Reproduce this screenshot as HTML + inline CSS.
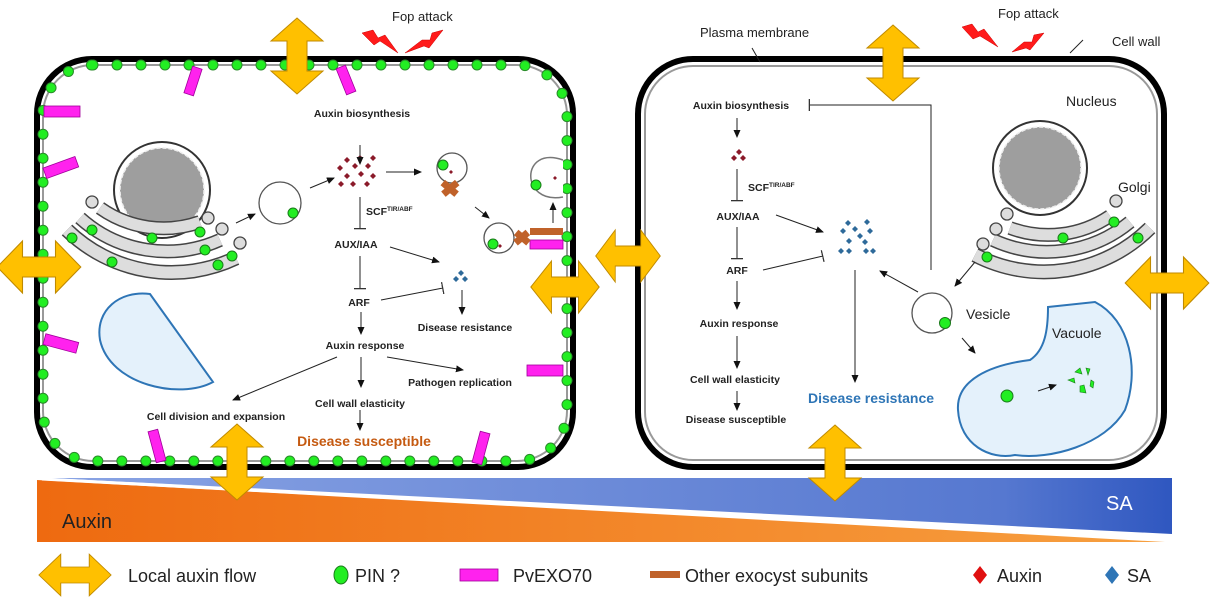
<!DOCTYPE html>
<html><head><meta charset="utf-8"><style>
html,body{margin:0;padding:0;background:#fff;}
svg{display:block;}
text{font-family:"Liberation Sans",sans-serif;}
.b{font-weight:bold;font-size:10.5px;fill:#222;}
.r{font-size:14px;fill:#222;}
</style></head><body>
<svg width="1216" height="597" viewBox="0 0 1216 597" xmlns="http://www.w3.org/2000/svg">
<defs>
<marker id="ah" markerWidth="8" markerHeight="8" refX="7" refY="4" orient="auto" markerUnits="userSpaceOnUse"><path d="M0,0.5 L8,4 L0,7.5 Z" fill="#111"/></marker>
<marker id="tee" markerWidth="2" markerHeight="12" refX="1" refY="6" orient="auto" markerUnits="userSpaceOnUse"><rect x="0" y="0" width="1.3" height="12" fill="#333"/></marker>
<g id="va"><polygon points="0,-38 26,-15 10,-15 10,15 26,15 0,38 -26,15 -10,15 -10,-15 -26,-15" fill="#FFC000" stroke="#c08a00" stroke-width="1"/></g>
<linearGradient id="og" x1="0" x2="1"><stop offset="0" stop-color="#ee6a10"/><stop offset="1" stop-color="#f7a040"/></linearGradient>
<linearGradient id="bg" x1="0" x2="1"><stop offset="0" stop-color="#8aa4e4"/><stop offset="0.85" stop-color="#5678d0"/><stop offset="1" stop-color="#2f57c0"/></linearGradient>
</defs>

<polygon points="48,478 1172,478 1172,534" fill="url(#bg)"/>
<polygon points="37,480 1165,542 37,542" fill="url(#og)"/>
<line x1="42" y1="479" x2="1172" y2="539" stroke="#fff" stroke-width="3"/>
<text x="62" y="528" font-size="20" fill="#222">Auxin</text>
<text x="1106" y="510" font-size="20" fill="#fff">SA</text>

<!-- LEFT CELL -->
<rect x="37" y="59" width="536" height="408" rx="55" fill="#fff" stroke="#000" stroke-width="6"/>
<rect x="43" y="65" width="524" height="396" rx="50" fill="none" stroke="#999" stroke-width="2"/>
<rect x="43" y="65" width="524" height="396" rx="50" fill="none" stroke="#2a8a2a" stroke-width="11" stroke-dasharray="0 24" stroke-linecap="round"/>
<rect x="43" y="65" width="524" height="396" rx="50" fill="none" stroke="#22ee22" stroke-width="9" stroke-dasharray="0 24" stroke-linecap="round"/>
<g fill="#ff22ee" stroke="#a0009a" stroke-width="0.8">
<rect x="188" y="67" width="10" height="28" transform="rotate(18 193 81)"/>
<rect x="341" y="66" width="10" height="28" transform="rotate(-22 346 80)"/>
<rect x="44" y="106" width="36" height="11"/>
<rect x="44" y="162" width="34" height="11" transform="rotate(-20 61 168)"/>
<rect x="44" y="338" width="34" height="11" transform="rotate(15 61 343)"/>
<rect x="152" y="430" width="10" height="32" transform="rotate(-15 157 446)"/>
<rect x="476" y="432" width="10" height="32" transform="rotate(15 481 448)"/>
<rect x="527" y="365" width="36" height="11"/>
<rect x="530" y="240" width="33" height="9"/>
</g>
<circle cx="162" cy="190" r="48" fill="#fff" stroke="#333" stroke-width="2"/>
<circle cx="162" cy="190" r="42" fill="#9e9e9e" stroke="#eee" stroke-width="1.5" stroke-dasharray="4 2"/>
<!-- golgi -->
<g fill="none">
<path d="M67,230 A150,150 0 0 0 236,258" stroke="#444" stroke-width="15"/>
<path d="M67,230 A150,150 0 0 0 236,258" stroke="#ddd" stroke-width="12"/>
<path d="M80,218 A130,130 0 0 0 220,240" stroke="#444" stroke-width="14"/>
<path d="M80,218 A130,130 0 0 0 220,240" stroke="#ddd" stroke-width="11"/>
<path d="M100,208 A110,110 0 0 0 200,222" stroke="#444" stroke-width="14"/>
<path d="M100,208 A110,110 0 0 0 200,222" stroke="#ddd" stroke-width="11"/>
</g>
<g fill="#ddd" stroke="#444" stroke-width="1.3">
<circle cx="92" cy="202" r="6"/><circle cx="208" cy="218" r="6"/><circle cx="222" cy="229" r="6"/><circle cx="240" cy="243" r="6"/>
</g>
<g fill="#22ee22" stroke="#1a7a1a" stroke-width="1">
<circle cx="92" cy="230" r="5"/><circle cx="72" cy="238" r="5"/><circle cx="152" cy="238" r="5"/><circle cx="200" cy="232" r="5"/><circle cx="205" cy="250" r="5"/><circle cx="112" cy="262" r="5"/><circle cx="232" cy="256" r="5"/><circle cx="218" cy="265" r="5"/>
</g>
<path d="M150,294 L213,382 C180,400 110,385 100,340 C95,310 120,290 150,294 Z" fill="#e4f1fb" stroke="#2e75b6" stroke-width="2"/>
<circle cx="280" cy="203" r="21" fill="#fff" stroke="#555" stroke-width="1.3"/>
<circle cx="293" cy="213" r="5" fill="#22ee22" stroke="#1a7a1a"/>
<circle cx="452" cy="168" r="15" fill="#fff" stroke="#555" stroke-width="1.3"/>
<circle cx="443" cy="165" r="5" fill="#22ee22" stroke="#1a7a1a"/>
<rect x="441" y="185" width="18" height="7" fill="#c0622a" transform="rotate(40 450 188)"/>
<rect x="441" y="185" width="18" height="7" fill="#c0622a" transform="rotate(-40 450 188)"/>
<circle cx="499" cy="238" r="15" fill="#fff" stroke="#555" stroke-width="1.3"/>
<circle cx="493" cy="244" r="5" fill="#22ee22" stroke="#1a7a1a"/>
<rect x="514" y="234" width="16" height="7" fill="#c0622a" transform="rotate(40 522 238)"/>
<rect x="514" y="234" width="16" height="7" fill="#c0622a" transform="rotate(-40 522 238)"/>
<rect x="530" y="228" width="33" height="7" fill="#c0622a"/>
<path d="M563,160 C520,145 520,205 563,197" fill="#fff" stroke="#777" stroke-width="1.5"/>
<circle cx="536" cy="185" r="5" fill="#22ee22" stroke="#1a7a1a"/>
<path d="M553,178 l2,-2 2,2 -2,2z" fill="#8b1a2a"/>
<g fill="#8b1a2a">
<path d="M344,160 l3,-3 3,3 -3,3z"/><path d="M357,158 l3,-3 3,3 -3,3z"/><path d="M370,158 l3,-3 3,3 -3,3z"/><path d="M337,168 l3,-3 3,3 -3,3z"/><path d="M352,166 l3,-3 3,3 -3,3z"/><path d="M365,166 l3,-3 3,3 -3,3z"/><path d="M344,176 l3,-3 3,3 -3,3z"/><path d="M358,174 l3,-3 3,3 -3,3z"/><path d="M370,176 l3,-3 3,3 -3,3z"/><path d="M338,184 l3,-3 3,3 -3,3z"/><path d="M350,184 l3,-3 3,3 -3,3z"/><path d="M364,184 l3,-3 3,3 -3,3z"/><path d="M449,172 l2,-2 2,2 -2,2z"/><path d="M498,246 l2,-2 2,2 -2,2z"/>
</g>
<g fill="#2e6a9a"><path d="M458,273 l3,-3 3,3 -3,3z"/><path d="M453,279 l3,-3 3,3 -3,3z"/><path d="M462,279 l3,-3 3,3 -3,3z"/></g>
<g stroke="#222" stroke-width="1" fill="none">
<line x1="360" y1="145" x2="360" y2="164" marker-end="url(#ah)"/>
<line x1="236" y1="223" x2="255" y2="214" marker-end="url(#ah)"/>
<line x1="310" y1="188" x2="334" y2="178" marker-end="url(#ah)"/>
<line x1="386" y1="172" x2="421" y2="172" marker-end="url(#ah)"/>
<line x1="475" y1="207" x2="489" y2="218" marker-end="url(#ah)"/>
<line x1="553" y1="223" x2="553" y2="203" marker-end="url(#ah)"/>
<line x1="360" y1="197" x2="360" y2="229" marker-end="url(#tee)"/>
<line x1="360" y1="256" x2="360" y2="289" marker-end="url(#tee)"/>
<line x1="390" y1="247" x2="439" y2="262" marker-end="url(#ah)"/>
<line x1="381" y1="300" x2="443" y2="288" marker-end="url(#tee)"/>
<line x1="462" y1="290" x2="462" y2="314" marker-end="url(#ah)"/>
<line x1="361" y1="312" x2="361" y2="334" marker-end="url(#ah)"/>
<line x1="337" y1="357" x2="233" y2="400" marker-end="url(#ah)"/>
<line x1="361" y1="357" x2="361" y2="387" marker-end="url(#ah)"/>
<line x1="387" y1="357" x2="463" y2="370" marker-end="url(#ah)"/>
<line x1="360" y1="410" x2="360" y2="430" marker-end="url(#ah)"/>
</g>
<text class="b" x="362" y="117" text-anchor="middle">Auxin biosynthesis</text>
<text class="b" x="366" y="215">SCF<tspan font-size="6.5" dy="-4">TIR/ABF</tspan></text>
<text class="b" x="356" y="248" text-anchor="middle" font-size="11.5">AUX/IAA</text>
<text class="b" x="359" y="306" text-anchor="middle" font-size="11.5">ARF</text>
<text class="b" x="365" y="349" text-anchor="middle">Auxin response</text>
<text class="b" x="465" y="331" text-anchor="middle">Disease resistance</text>
<text class="b" x="460" y="386" text-anchor="middle">Pathogen replication</text>
<text class="b" x="360" y="407" text-anchor="middle">Cell wall elasticity</text>
<text class="b" x="216" y="420" text-anchor="middle">Cell division and expansion</text>
<text x="364" y="446" text-anchor="middle" font-size="14" font-weight="bold" fill="#c55a11">Disease susceptible</text>

<!-- RIGHT CELL -->
<rect x="638" y="59" width="526" height="408" rx="55" fill="#fff" stroke="#000" stroke-width="6"/>
<rect x="645" y="66" width="512" height="394" rx="48" fill="none" stroke="#999" stroke-width="2"/>
<circle cx="1040" cy="168" r="47" fill="#fff" stroke="#333" stroke-width="2"/>
<circle cx="1040" cy="168" r="41" fill="#9e9e9e" stroke="#eee" stroke-width="1.5" stroke-dasharray="4 2"/>
<g fill="none">
<path d="M975,255 A150,150 0 0 0 1150,228" stroke="#444" stroke-width="15"/>
<path d="M975,255 A150,150 0 0 0 1150,228" stroke="#ddd" stroke-width="12"/>
<path d="M993,240 A130,130 0 0 0 1130,222" stroke="#444" stroke-width="14"/>
<path d="M993,240 A130,130 0 0 0 1130,222" stroke="#ddd" stroke-width="11"/>
<path d="M1010,228 A110,110 0 0 0 1110,216" stroke="#444" stroke-width="14"/>
<path d="M1010,228 A110,110 0 0 0 1110,216" stroke="#ddd" stroke-width="11"/>
</g>
<g fill="#ddd" stroke="#444" stroke-width="1.3">
<circle cx="1007" cy="214" r="6"/><circle cx="996" cy="229" r="6"/><circle cx="983" cy="244" r="6"/><circle cx="1116" cy="201" r="6"/>
</g>
<g fill="#22ee22" stroke="#1a7a1a" stroke-width="1">
<circle cx="987" cy="257" r="5"/><circle cx="1063" cy="238" r="5"/><circle cx="1114" cy="222" r="5"/><circle cx="1138" cy="238" r="5"/>
</g>
<path d="M1048,307 L1095,302 C1130,320 1140,370 1125,410 C1105,445 1050,460 1015,455 C990,460 960,445 958,410 C956,380 990,365 1030,360 C1045,350 1048,330 1048,307 Z" fill="#e4f1fb" stroke="#2e75b6" stroke-width="2"/>
<circle cx="1007" cy="396" r="6" fill="#22ee22" stroke="#1a7a1a"/>
<g fill="#22ee22" stroke="#1a7a1a" stroke-width="0.6">
<path d="M1075,372 l5,-4 2,6z"/><path d="M1086,368 l4,1 -2,6z"/><path d="M1068,380 l6,-2 1,5z"/><path d="M1080,386 l4,-1 2,8 -6,-1z"/><path d="M1091,380 l3,2 -1,6 -3,-2z"/>
</g>
<circle cx="932" cy="313" r="20" fill="#fff" stroke="#555" stroke-width="1.3"/>
<circle cx="945" cy="323" r="5.5" fill="#22ee22" stroke="#1a7a1a"/>
<g fill="#8b1a2a"><path d="M736,152 l3,-3 3,3 -3,3z"/><path d="M731,158 l3,-3 3,3 -3,3z"/><path d="M740,158 l3,-3 3,3 -3,3z"/></g>
<g fill="#2e6a9a">
<path d="M845,223 l3,-3 3,3 -3,3z"/><path d="M864,222 l3,-3 3,3 -3,3z"/><path d="M840,231 l3,-3 3,3 -3,3z"/><path d="M852,229 l3,-3 3,3 -3,3z"/><path d="M867,231 l3,-3 3,3 -3,3z"/><path d="M857,236 l3,-3 3,3 -3,3z"/><path d="M846,241 l3,-3 3,3 -3,3z"/><path d="M862,242 l3,-3 3,3 -3,3z"/><path d="M838,251 l3,-3 3,3 -3,3z"/><path d="M846,251 l3,-3 3,3 -3,3z"/><path d="M863,251 l3,-3 3,3 -3,3z"/><path d="M870,251 l3,-3 3,3 -3,3z"/>
</g>
<g stroke="#222" stroke-width="1" fill="none">
<polyline points="931,270 931,105 809,105" marker-end="url(#tee)"/>
<line x1="737" y1="118" x2="737" y2="137" marker-end="url(#ah)"/>
<line x1="737" y1="169" x2="737" y2="201" marker-end="url(#tee)"/>
<line x1="737" y1="227" x2="737" y2="259" marker-end="url(#tee)"/>
<line x1="737" y1="281" x2="737" y2="309" marker-end="url(#ah)"/>
<line x1="737" y1="336" x2="737" y2="368" marker-end="url(#ah)"/>
<line x1="737" y1="391" x2="737" y2="410" marker-end="url(#ah)"/>
<line x1="776" y1="215" x2="823" y2="232" marker-end="url(#ah)"/>
<line x1="763" y1="270" x2="823" y2="256" marker-end="url(#tee)"/>
<line x1="855" y1="270" x2="855" y2="382" marker-end="url(#ah)"/>
<line x1="918" y1="292" x2="880" y2="271" marker-end="url(#ah)"/>
<line x1="975" y1="262" x2="955" y2="286" marker-end="url(#ah)"/>
<line x1="962" y1="338" x2="975" y2="353" marker-end="url(#ah)"/>
<line x1="1038" y1="391" x2="1056" y2="385" marker-end="url(#ah)"/>
<line x1="752" y1="48" x2="760" y2="62"/>
<line x1="1083" y1="40" x2="1070" y2="53"/>
</g>
<text class="b" x="741" y="109" text-anchor="middle">Auxin biosynthesis</text>
<text class="b" x="748" y="191">SCF<tspan font-size="6.5" dy="-4">TIR/ABF</tspan></text>
<text class="b" x="738" y="220" text-anchor="middle" font-size="11.5">AUX/IAA</text>
<text class="b" x="737" y="274" text-anchor="middle" font-size="11.5">ARF</text>
<text class="b" x="739" y="327" text-anchor="middle">Auxin response</text>
<text class="b" x="735" y="383" text-anchor="middle">Cell wall elasticity</text>
<text class="b" x="736" y="423" text-anchor="middle">Disease susceptible</text>
<text x="871" y="403" text-anchor="middle" font-size="14" font-weight="bold" fill="#2e75b6">Disease resistance</text>
<text class="r" x="966" y="319">Vesicle</text>
<text class="r" x="1052" y="338">Vacuole</text>
<text class="r" x="1066" y="106">Nucleus</text>
<text class="r" x="1118" y="192">Golgi</text>
<text x="700" y="37" font-size="13" fill="#222">Plasma membrane</text>
<text x="1112" y="46" font-size="13" fill="#222">Cell wall</text>
<text x="392" y="21" font-size="13" fill="#222">Fop attack</text>
<text x="998" y="18" font-size="13" fill="#222">Fop attack</text>
<g fill="#ff1a1a" stroke="#c00" stroke-width="0.5">
<polygon points="362,33 373,30 378,38 385,35 398,53 380,41 374,45"/>
<polygon points="443,30 432,33 430,40 422,40 405,53 424,46 429,48"/>
<polygon points="962,27 972,24 978,32 984,29 998,47 980,36 973,39"/>
<polygon points="1044,33 1034,35 1032,42 1024,42 1012,52 1026,48 1030,50"/>
</g>

<use href="#va" transform="translate(297,56)"/>
<use href="#va" transform="translate(39,267) rotate(90) scale(1,1.1)"/>
<use href="#va" transform="translate(628,256) rotate(90) scale(1,0.85)"/>
<use href="#va" transform="translate(565,287) rotate(90) scale(1,0.9)"/>
<use href="#va" transform="translate(237,462)"/>
<use href="#va" transform="translate(893,63)"/>
<use href="#va" transform="translate(1167,283) rotate(90) scale(1,1.1)"/>
<use href="#va" transform="translate(835,463)"/>

<use href="#va" transform="translate(75,575) rotate(90) scale(0.8,0.95)"/>
<text x="128" y="582" font-size="18" fill="#222">Local auxin flow</text>
<ellipse cx="341" cy="575" rx="7" ry="9" fill="#22ee22" stroke="#1a7a1a"/>
<text x="355" y="582" font-size="18" fill="#222">PIN ?</text>
<rect x="460" y="569" width="38" height="12" fill="#ff22ee" stroke="#a0009a" stroke-width="0.8"/>
<text x="513" y="582" font-size="18" fill="#222">PvEXO70</text>
<rect x="650" y="571" width="30" height="7" fill="#c0622a"/>
<text x="685" y="582" font-size="18" fill="#222">Other exocyst subunits</text>
<path d="M980,566 l7,9 -7,9 -7,-9z" fill="#e01010"/>
<text x="997" y="582" font-size="18" fill="#222">Auxin</text>
<path d="M1112,566 l7,9 -7,9 -7,-9z" fill="#2e75b6"/>
<text x="1127" y="582" font-size="18" fill="#222">SA</text>
</svg>
</body></html>
